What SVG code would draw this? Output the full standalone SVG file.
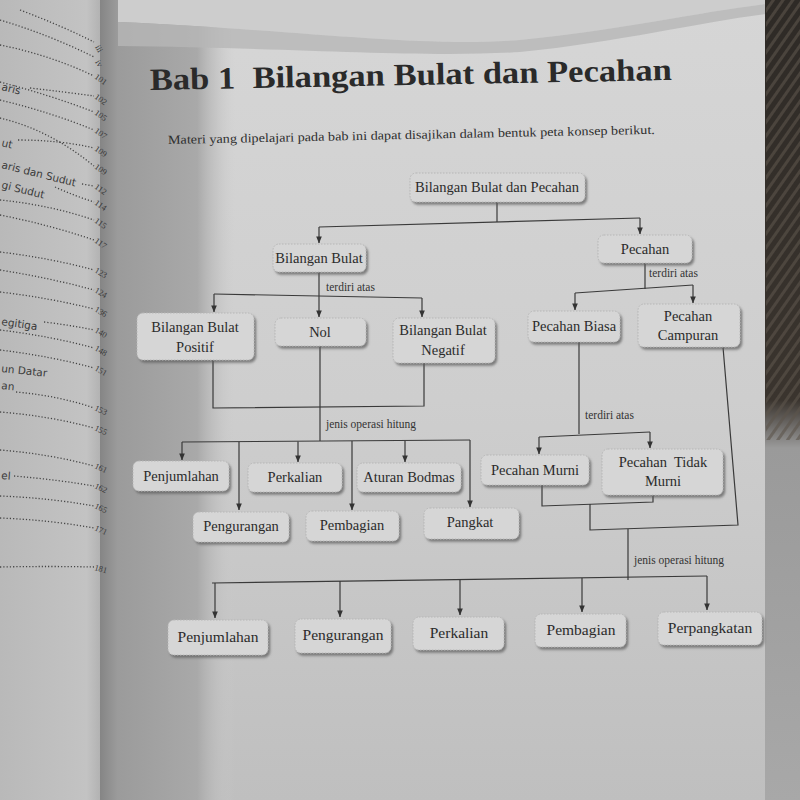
<svg xmlns="http://www.w3.org/2000/svg" width="800" height="800" viewBox="0 0 800 800">
<defs>
  <linearGradient id="pageG" x1="0" y1="0" x2="0" y2="1">
    <stop offset="0" stop-color="#d6d6d6"/>
    <stop offset="0.5" stop-color="#cecece"/>
    <stop offset="1" stop-color="#bfbfbf"/>
  </linearGradient>
  <linearGradient id="leftG" x1="0" y1="0" x2="1" y2="0">
    <stop offset="0" stop-color="#b9b9b9"/>
    <stop offset="0.85" stop-color="#c3c3c3"/>
    <stop offset="1" stop-color="#b0b0b0"/>
  </linearGradient>
  <linearGradient id="gutG" x1="0" y1="0" x2="1" y2="0">
    <stop offset="0" stop-color="#858585"/>
    <stop offset="0.13" stop-color="#9b9b9b"/>
    <stop offset="0.72" stop-color="#a9a9a9"/>
    <stop offset="0.86" stop-color="#bcbcbc" stop-opacity="0.6"/>
    <stop offset="1" stop-color="#cccccc" stop-opacity="0"/>
  </linearGradient>
  <linearGradient id="darkG" x1="0" y1="0" x2="0" y2="1">
    <stop offset="0" stop-color="#2e2a26"/>
    <stop offset="0.5" stop-color="#3a342e"/>
    <stop offset="0.56" stop-color="#9a9a9a"/>
    <stop offset="1" stop-color="#a8a8a8"/>
  </linearGradient>
  <pattern id="stripes" width="8" height="8" patternUnits="userSpaceOnUse" patternTransform="rotate(35)">
    <rect width="3" height="8" fill="#5c544b"/>
  </pattern>
  <filter id="sh" x="-10%" y="-20%" width="125%" height="150%">
    <feDropShadow dx="2" dy="2.5" stdDeviation="1.3" flood-color="#5a5a5a" flood-opacity="0.7"/>
  </filter>
  <marker id="ar" viewBox="0 0 8 8" refX="7.5" refY="4" markerWidth="7" markerHeight="7" markerUnits="userSpaceOnUse" orient="auto">
    <path d="M0,0.8 L8,4 L0,7.2 z" fill="#333"/>
  </marker>
</defs>
<style>
  .box{fill:#d6d6d6;stroke:#b6b6b6;stroke-width:1;stroke-dasharray:1.5 1.5;filter:url(#sh)}
  .t{font-family:"Liberation Serif","Times New Roman",serif;font-size:14.5px;fill:#2b2b2b;text-anchor:middle}
  .tb{font-family:"Liberation Serif","Times New Roman",serif;font-size:15.5px;fill:#2b2b2b;text-anchor:middle}
  .lab{font-family:"Liberation Serif","Times New Roman",serif;font-size:11.5px;fill:#333}
  .c{fill:none;stroke:#3a3a3a;stroke-width:1.2}
  .a{marker-end:url(#ar)}
  .toc{font-family:"DejaVu Sans","Noto Sans",sans-serif;font-size:10.5px;fill:#3a3a3a}
  .pn{font-family:"Liberation Serif",serif;font-size:8.5px;fill:#3a3a3a}
  .dot{fill:none;stroke:#444;stroke-width:1.3;stroke-dasharray:1.2 2}
</style>

<!-- background -->
<rect x="0" y="0" width="800" height="800" fill="url(#pageG)"/>
<rect x="0" y="0" width="102" height="800" fill="url(#leftG)"/>
<rect x="100" y="0" width="135" height="800" fill="url(#gutG)"/>
<path d="M118,0 L766,0 L766,4 C700,12 620,30 520,40 C420,48 300,30 118,22 Z" fill="#cdcdcd"/>
<path d="M118,22 C300,30 420,48 520,40 C620,30 700,12 766,4 L766,14 C700,22 620,42 520,52 C420,58 300,48 118,46 Z" fill="#b6b6b6" opacity="0.8"/>
<rect x="765" y="0" width="35" height="800" fill="url(#darkG)"/>
<rect x="766" y="0" width="34" height="440" fill="url(#stripes)" opacity="0.6"/>

<!-- left page (table of contents fragments) -->
<g id="left-page">
  <g class="toc">
    <text x="1" y="90" transform="rotate(14 1 90)">aris</text>
    <text x="1" y="146" transform="rotate(14 1 146)">ut</text>
    <text x="1" y="168" transform="rotate(14 1 168)">aris dan Sudut</text>
    <text x="1" y="188" transform="rotate(14 1 188)">gi Sudut</text>
    <text x="1" y="325" transform="rotate(8 1 325)">egitiga</text>
    <text x="1" y="372" transform="rotate(6 1 372)">un Datar</text>
    <text x="1" y="389" transform="rotate(6 1 389)">an</text>
    <text x="1" y="479" transform="rotate(4 1 479)">el</text>
  </g>
  <g>
    <path class="dot" d="M20,10 Q60,25 94,42"/>
    <path class="dot" d="M0,20 Q50,35 94,57"/>
    <path class="dot" d="M0,45 Q50,55 94,76"/>
    <path class="dot" d="M30,88 Q65,92 94,96"/>
    <path class="dot" d="M0,82 Q50,95 94,112"/>
    <path class="dot" d="M0,100 Q50,112 94,130"/>
    <path class="dot" d="M18,140 Q60,140 94,148"/>
    <path class="dot" d="M0,118 Q50,130 94,166"/>
    <path class="dot" d="M82,184 L94,186"/>
    <path class="dot" d="M55,187 Q75,196 94,202"/>
    <path class="dot" d="M0,200 Q50,205 94,220"/>
    <path class="dot" d="M0,215 Q50,225 94,240"/>
    <path class="dot" d="M0,252 Q50,258 94,270"/>
    <path class="dot" d="M0,270 Q50,278 94,290"/>
    <path class="dot" d="M0,292 Q50,298 94,309"/>
    <path class="dot" d="M44,322 Q70,325 94,330"/>
    <path class="dot" d="M0,330 Q50,336 94,348"/>
    <path class="dot" d="M0,350 Q50,356 94,368"/>
    <path class="dot" d="M16,392 Q60,396 94,408"/>
    <path class="dot" d="M0,412 Q50,416 94,428"/>
    <path class="dot" d="M0,450 Q50,454 94,466"/>
    <path class="dot" d="M14,476 Q60,480 94,486"/>
    <path class="dot" d="M0,496 Q50,498 94,506"/>
    <path class="dot" d="M0,518 Q50,520 94,528"/>
    <path class="dot" d="M0,567 Q50,566 94,567"/>
  </g>
  <g class="pn">
    <text x="95" y="47" transform="rotate(60 95 47)">iii</text>
    <text x="95" y="62" transform="rotate(60 95 62)">iv</text>
    <text x="94" y="78" transform="rotate(35 94 78)">101</text>
    <text x="94" y="98" transform="rotate(35 94 98)">102</text>
    <text x="94" y="114" transform="rotate(35 94 114)">105</text>
    <text x="94" y="132" transform="rotate(35 94 132)">107</text>
    <text x="94" y="150" transform="rotate(35 94 150)">109</text>
    <text x="94" y="168" transform="rotate(35 94 168)">109</text>
    <text x="94" y="188" transform="rotate(35 94 188)">112</text>
    <text x="94" y="204" transform="rotate(35 94 204)">114</text>
    <text x="94" y="222" transform="rotate(35 94 222)">115</text>
    <text x="94" y="242" transform="rotate(35 94 242)">117</text>
    <text x="94" y="272" transform="rotate(30 94 272)">123</text>
    <text x="94" y="292" transform="rotate(30 94 292)">124</text>
    <text x="94" y="311" transform="rotate(30 94 311)">136</text>
    <text x="94" y="332" transform="rotate(30 94 332)">140</text>
    <text x="94" y="350" transform="rotate(30 94 350)">148</text>
    <text x="94" y="370" transform="rotate(30 94 370)">151</text>
    <text x="94" y="410" transform="rotate(25 94 410)">153</text>
    <text x="94" y="430" transform="rotate(25 94 430)">155</text>
    <text x="94" y="468" transform="rotate(25 94 468)">161</text>
    <text x="94" y="488" transform="rotate(25 94 488)">162</text>
    <text x="94" y="508" transform="rotate(25 94 508)">165</text>
    <text x="94" y="530" transform="rotate(25 94 530)">171</text>
    <text x="94" y="570" transform="rotate(15 94 570)">181</text>
  </g>
</g>

<!-- heading -->
<g id="heading">
  <text x="150" y="90" transform="rotate(-1.1 150 90)" textLength="522" lengthAdjust="spacingAndGlyphs" xml:space="preserve" font-family="Liberation Serif, serif" font-weight="bold" font-size="31" fill="#2a2a2a">Bab 1  Bilangan Bulat dan Pecahan</text>
  <text x="168" y="144" transform="rotate(-1.2 168 144)" textLength="487" lengthAdjust="spacingAndGlyphs" font-family="Liberation Serif, serif" font-size="12.5" fill="#2e2e2e">Materi yang dipelajari pada bab ini dapat disajikan dalam bentuk peta konsep berikut.</text>
</g>

<!-- connectors -->
<g id="connectors">
  <path class="c" d="M497,202 L497,222"/>
  <path class="c" d="M319,227 L640,218"/>
  <path class="c a" d="M319,227 L319,243"/>
  <path class="c a" d="M640,218 L640,234"/>
  <path class="c a" d="M319,272 L319,317"/>
  <path class="c" d="M214,294 L422,298"/>
  <path class="c a" d="M214,294 L214,312"/>
  <path class="c a" d="M422,298 L422,317"/>
  <path class="c" d="M645,263 L645,289"/>
  <path class="c" d="M575,293 L693,285"/>
  <path class="c a" d="M575,293 L575,310"/>
  <path class="c a" d="M693,285 L693,303"/>
  <path class="c" d="M213,360 L213,408 L424,406 L424,363"/>
  <path class="c" d="M320,346 L320,441"/>
  <path class="c" d="M182,442 L470,440"/>
  <path class="c a" d="M182,442 L182,460"/>
  <path class="c a" d="M239,442 L239,510"/>
  <path class="c a" d="M298,441.5 L298,462"/>
  <path class="c a" d="M352,441 L352,510"/>
  <path class="c a" d="M405,441 L405,462"/>
  <path class="c a" d="M470,440 L470,507"/>
  <path class="c" d="M579,342 L579,434"/>
  <path class="c" d="M539,437 L650,432"/>
  <path class="c a" d="M539,437 L539,454"/>
  <path class="c a" d="M650,432 L650,448"/>
  <path class="c" d="M542,485 L542,506 L653,502 L653,495"/>
  <path class="c" d="M590,504 L590,530 L738,525 L723,347"/>
  <path class="c" d="M628,529 L628,580"/>
  <path class="c" d="M212,583 L707,576"/>
  <path class="c a" d="M215,583 L215,618"/>
  <path class="c a" d="M340,581 L340,617"/>
  <path class="c a" d="M460,579.5 L460,615"/>
  <path class="c a" d="M582,578 L582,612"/>
  <path class="c a" d="M707,576 L707,610"/>
  <text class="lab" x="326" y="291">terdiri atas</text>
  <text class="lab" x="649" y="277" font-size="10.5">terdiri atas</text>
  <text class="lab" x="326" y="428" font-size="12">jenis operasi hitung</text>
  <text class="lab" x="585" y="419">terdiri atas</text>
  <text class="lab" x="634" y="564" font-size="12">jenis operasi hitung</text>
</g>

<!-- nodes -->
<g id="n-root"><rect class="box" x="410" y="173" width="175" height="29" rx="6"/><text class="t" x="497" y="192" font-size="14">Bilangan Bulat dan Pecahan</text></g>
<g id="n-bulat"><rect class="box" x="273" y="244" width="93" height="28" rx="6"/><text class="t" x="319" y="263">Bilangan Bulat</text></g>
<g id="n-pecahan"><rect class="box" x="598" y="235" width="94" height="28" rx="6"/><text class="t" x="645" y="254">Pecahan</text></g>
<g id="n-positif"><rect class="box" x="137" y="313" width="117" height="47" rx="6"/><text class="t" x="195" y="332">Bilangan Bulat</text><text class="t" x="195" y="352">Positif</text></g>
<g id="n-nol"><rect class="box" x="275" y="318" width="91" height="28" rx="6"/><text class="t" x="320" y="337">Nol</text></g>
<g id="n-negatif"><rect class="box" x="393" y="318" width="102" height="45" rx="6"/><text class="t" x="443" y="335">Bilangan Bulat</text><text class="t" x="443" y="355">Negatif</text></g>
<g id="n-biasa"><rect class="box" x="528" y="311" width="92" height="31" rx="6"/><text class="t" x="574" y="331">Pecahan Biasa</text></g>
<g id="n-campuran"><rect class="box" x="638" y="304" width="102" height="43" rx="6"/><text class="t" x="688" y="321">Pecahan</text><text class="t" x="688" y="340">Campuran</text></g>
<g id="n-penjumlahan1"><rect class="box" x="133" y="461" width="96" height="30" rx="6"/><text class="t" x="181" y="481">Penjumlahan</text></g>
<g id="n-perkalian1"><rect class="box" x="248" y="463" width="94" height="29" rx="6"/><text class="t" x="295" y="482">Perkalian</text></g>
<g id="n-bodmas"><rect class="box" x="357" y="463" width="104" height="29" rx="6"/><text class="t" x="409" y="482">Aturan Bodmas</text></g>
<g id="n-pengurangan1"><rect class="box" x="193" y="512" width="96" height="30" rx="6"/><text class="t" x="241" y="531">Pengurangan</text></g>
<g id="n-pembagian1"><rect class="box" x="306" y="511" width="93" height="30" rx="6"/><text class="t" x="352" y="530">Pembagian</text></g>
<g id="n-pangkat"><rect class="box" x="424" y="508" width="95" height="31" rx="6"/><text class="t" x="470" y="527">Pangkat</text></g>
<g id="n-murni"><rect class="box" x="481" y="455" width="108" height="30" rx="6"/><text class="t" x="535" y="475">Pecahan Murni</text></g>
<g id="n-tidakmurni"><rect class="box" x="602" y="449" width="121" height="46" rx="6"/><text class="t" x="663" y="467" xml:space="preserve">Pecahan  Tidak</text><text class="t" x="663" y="486">Murni</text></g>
<g id="n-penjumlahan2"><rect class="box" x="168" y="620" width="100" height="35" rx="6"/><text class="tb" x="218" y="642">Penjumlahan</text></g>
<g id="n-pengurangan2"><rect class="box" x="295" y="619" width="96" height="34" rx="6"/><text class="tb" x="343" y="640">Pengurangan</text></g>
<g id="n-perkalian2"><rect class="box" x="413" y="617" width="91" height="33" rx="6"/><text class="tb" x="459" y="638">Perkalian</text></g>
<g id="n-pembagian2"><rect class="box" x="535" y="614" width="91" height="33" rx="6"/><text class="tb" x="581" y="635">Pembagian</text></g>
<g id="n-perpangkatan"><rect class="box" x="658" y="612" width="104" height="33" rx="6"/><text class="tb" x="710" y="633">Perpangkatan</text></g>
</svg>
